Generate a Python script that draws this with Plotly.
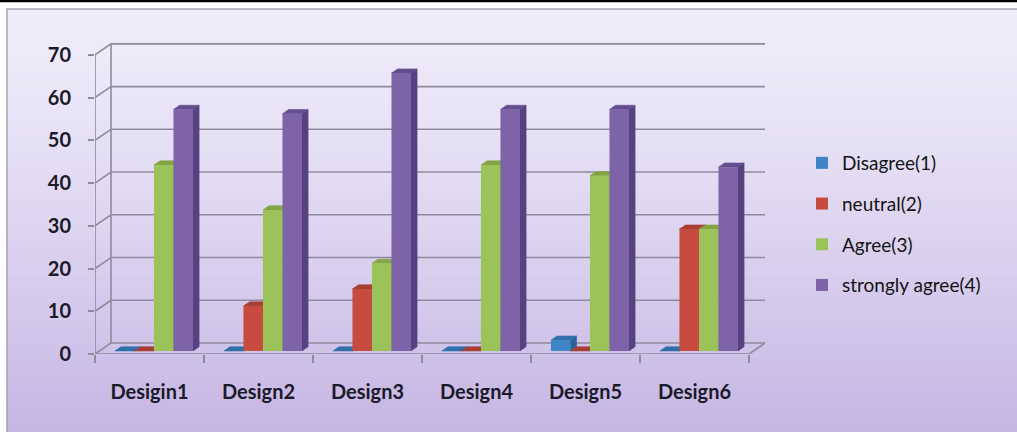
import plotly.graph_objects as go

# ---- data -------------------------------------------------------------
categories = ["Desigin1", "Design2", "Design3", "Design4", "Design5", "Design6"]
series_names = ["Disagree(1)", "neutral(2)", "Agree(3)", "strongly agree(4)"]
disagree = [0, 0, 0, 0, 2.5, 0]
neutral = [0, 10.5, 14.5, 0, 0, 28.5]
agree = [43.5, 33, 20.5, 43.5, 41, 28.5]
strongly_agree = [56.5, 55.5, 65, 56.5, 56.5, 43]
y_ticks = [0, 10, 20, 30, 40, 50, 60, 70]

# ---- styling ----------------------------------------------------------
front_colors = ["#3D85C6", "#C84B3F", "#9CC35A", "#7E63A8"]
side_colors = ["#2A6299", "#9A372D", "#769A3A", "#574280"]
top_colors = ["#2F6FAA", "#A93F34", "#83A544", "#634D8E"]
grid_color = "#8F8B9E"
FONT = "Lato"

W, H = 1017, 432
ML, MR, MT, MB = 95, 252, 42, 78
plot_w = W - ML - MR
plot_h = H - MT - MB

Y_MAX = 73
DEPTH_X = 0.147      # oblique depth, category units
DEPTH_Y = 2.57       # oblique depth, value units
X_MIN = -0.5
X_MAX = len(categories) - 0.5 + DEPTH_X
BAR_W = 0.179
F0, F1 = 0.28, 0.66  # bar front / back depth fractions
DDX = (F1 - F0) * DEPTH_X
DDY = (F1 - F0) * DEPTH_Y


def px_x(px):
    return (px - ML) / plot_w


def px_y(py):
    return 1 - (py - MT) / plot_h


fig = go.Figure()

# ---- background gradient and frame --------------------------------------
shapes = []
top_rgb = (240, 237, 250)
bot_rgb = (197, 181, 227)
y_start, y_end, n_strips = 9, H, 90
step = (y_end - y_start) / n_strips
for s in range(n_strips):
    t = (s + 0.5) / n_strips
    t = t ** 1.25
    c = tuple(round(a + (b - a) * t) for a, b in zip(top_rgb, bot_rgb))
    shapes.append(dict(
        type="rect", xref="paper", yref="paper", layer="below",
        x0=px_x(7), x1=px_x(W + 2),
        y0=px_y(y_start + s * step), y1=px_y(y_start + (s + 1) * step + 0.6),
        line=dict(width=0), fillcolor="rgb(%d,%d,%d)" % c,
    ))
shapes.append(dict(
    type="rect", xref="paper", yref="paper", layer="below",
    x0=px_x(7), x1=px_x(W + 5), y0=px_y(9), y1=px_y(H + 5),
    line=dict(width=1.5, color="#A6A1B4"), fillcolor="rgba(0,0,0,0)",
))
shapes.append(dict(
    type="line", xref="paper", yref="paper", layer="above",
    x0=px_x(0), x1=px_x(W), y0=px_y(1), y1=px_y(1),
    line=dict(width=2.5, color="#000000"),
))

# ---- walls, floor and gridlines -----------------------------------------
def seg(x0, y0, x1, y1):
    return dict(type="line", xref="x", yref="y", layer="below",
                x0=x0, y0=y0, x1=x1, y1=y1,
                line=dict(width=1.6, color=grid_color))


x_front_r = len(categories) - 0.5
for t in y_ticks:
    shapes.append(seg(X_MIN, t, X_MIN + DEPTH_X, t + DEPTH_Y))
    shapes.append(seg(X_MIN + DEPTH_X, t + DEPTH_Y, X_MAX, t + DEPTH_Y))
shapes.append(seg(X_MIN, 0, X_MIN, y_ticks[-1]))
shapes.append(seg(X_MIN + DEPTH_X, DEPTH_Y, X_MIN + DEPTH_X, y_ticks[-1] + DEPTH_Y))
shapes.append(seg(X_MIN, 0, x_front_r, 0))
shapes.append(seg(x_front_r, 0, X_MAX, DEPTH_Y))

# ---- bars: side and top faces (polygons), front faces (bars) -------------
all_series = [disagree, neutral, agree, strongly_agree]
base = F0 * DEPTH_Y
for k, (name, vals) in enumerate(zip(series_names, all_series)):
    sx, sy, tx, ty = [], [], [], []
    xs = []
    for i, v in enumerate(vals):
        xc = i + F0 * DEPTH_X + (k - 1.5) * BAR_W
        xs.append(xc)
        xl, xr = xc - BAR_W / 2, xc + BAR_W / 2
        yt = base + v
        sx += [xr, xr + DDX, xr + DDX, xr, xr, None]
        sy += [base, base + DDY, yt + DDY, yt, base, None]
        tx += [xl, xr, xr + DDX, xl + DDX, xl, None]
        ty += [yt, yt, yt + DDY, yt + DDY, yt, None]
    fig.add_trace(go.Scatter(
        x=sx, y=sy, mode="lines", fill="toself", fillcolor=side_colors[k],
        line=dict(width=0.6, color=side_colors[k]), showlegend=False,
        hoverinfo="skip", xaxis="x", yaxis="y",
    ))
    fig.add_trace(go.Scatter(
        x=tx, y=ty, mode="lines", fill="toself", fillcolor=top_colors[k],
        line=dict(width=0.6, color=top_colors[k]), showlegend=False,
        hoverinfo="skip", xaxis="x", yaxis="y",
    ))
    fig.add_trace(go.Bar(
        x=xs, y=vals, base=[base] * len(vals), width=BAR_W, name=name,
        marker=dict(color=front_colors[k], line=dict(width=0)),
        legendgroup=name, xaxis="x2", yaxis="y2",
    ))

fig.update_layout(
    width=W, height=H,
    margin=dict(l=ML, r=MR, t=MT, b=MB, pad=0),
    paper_bgcolor="#FFFFFF", plot_bgcolor="rgba(0,0,0,0)",
    barmode="overlay", shapes=shapes,
    xaxis=dict(
        range=[X_MIN, X_MAX], showgrid=False, zeroline=False, showline=False,
        tickmode="array", tickvals=list(range(len(categories))),
        ticktext=categories, ticks="", ticklabelstandoff=24,
        tickfont=dict(family=FONT, size=20, color="#1B1A2A", weight="bold"),
        fixedrange=True,
    ),
    yaxis=dict(
        range=[0, Y_MAX], showgrid=False, zeroline=False, showline=False,
        tickmode="array", tickvals=y_ticks, ticks="outside", ticklen=6,
        tickwidth=1.6, tickcolor=grid_color, ticklabelstandoff=13,
        tickfont=dict(family=FONT, size=20, color="#1B1A2A", weight="bold"),
        fixedrange=True,
    ),
    xaxis2=dict(
        range=[X_MIN, X_MAX], overlaying="x", anchor="y2", side="bottom",
        showgrid=False, zeroline=False, showline=False,
        tickmode="array", tickvals=[i - 0.5 for i in range(len(categories) + 1)],
        ticks="outside", ticklen=8, tickwidth=1.6, tickcolor=grid_color,
        showticklabels=False, fixedrange=True,
    ),
    yaxis2=dict(
        range=[0, Y_MAX], overlaying="y", anchor="x2", side="left",
        showgrid=False, zeroline=False, showline=False, showticklabels=False,
        ticks="", fixedrange=True,
    ),
    legend=dict(
        x=px_x(802), y=px_y(144), xanchor="left", yanchor="top",
        bgcolor="rgba(0,0,0,0)", borderwidth=0,
        font=dict(family=FONT, size=19, color="#141414"),
        tracegroupgap=13, itemwidth=30, traceorder="grouped",
    ),
    showlegend=True,
)

fig.write_html("out.html")
